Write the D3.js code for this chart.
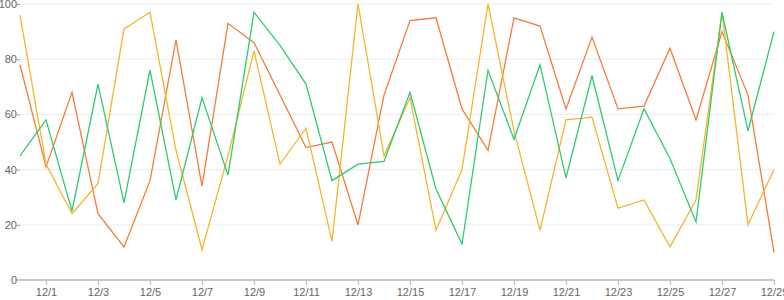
<!DOCTYPE html>
<html>
<head>
<meta charset="utf-8">
<script src="https://cdn.jsdelivr.net/npm/d3@7"></script>
<style>
  body { margin: 0; background: #fff; }
  svg { display: block; }
  .tick text { font-family: "Liberation Sans", Arial, sans-serif; font-size: 11px; fill: #666; }
</style>
</head>
<body>
<svg id="chart" width="784" height="300"></svg>
<script>
const width = 784;
const height = 300;

// day labels, 11/30 .. 12/29
const dates = ["11/30", "12/1", "12/2", "12/3", "12/4", "12/5", "12/6", "12/7", "12/8", "12/9",
  "12/10", "12/11", "12/12", "12/13", "12/14", "12/15", "12/16", "12/17", "12/18", "12/19",
  "12/20", "12/21", "12/22", "12/23", "12/24", "12/25", "12/26", "12/27", "12/28", "12/29"];

const xTickLabels = ["12/1", "12/3", "12/5", "12/7", "12/9", "12/11", "12/13", "12/15",
  "12/17", "12/19", "12/21", "12/23", "12/25", "12/27", "12/29"];
const yTicks = [0, 20, 40, 60, 80, 100];

const orangeValues = [78, 41, 68, 24, 12, 36, 87, 34, 93, 86, 67, 48, 50, 20, 67,
  94, 95, 62, 47, 95, 92, 62, 88, 62, 63, 84, 58, 90, 67, 10];
const yellowValues = [96, 42, 24, 35, 91, 97, 47, 11, 45, 83, 42, 55, 14, 100, 45,
  66, 18, 40, 100, 54, 18, 58, 59, 26, 29, 12, 29, 97, 20, 40];
const greenValues = [45, 58, 25, 71, 28, 76, 29, 66, 38, 97, 85, 71, 36, 42, 43,
  68, 33, 13, 76, 51, 78, 37, 74, 36, 62, 44, 21, 97, 54, 90];

const seriesList = [
  { name: "orange", color: "#f47c38", values: orangeValues },
  { name: "yellow", color: "#f3b72c", values: yellowValues },
  { name: "green", color: "#2fcb6e", values: greenValues }
];

const x_left = 20;
const x_right = 774;
const y_top = 4;
const y_bottom = 280;

const svg = d3.select("#chart");

const xScale = d3.scalePoint()
  .domain(dates)
  .range([x_left, x_right]);

const yScale = d3.scaleLinear()
  .domain([0, 100])
  .range([y_bottom, y_top]);

// grid
svg.append("g")
  .selectAll("line")
  .data(yTicks.filter(t => t > 0))
  .join("line")
  .attr("x1", x_left)
  .attr("x2", x_right)
  .attr("y1", d => yScale(d))
  .attr("y2", d => yScale(d))
  .attr("stroke", "#ebebeb")
  .attr("stroke-width", 1);

// y axis
const yAxis = svg.append("g")
  .attr("transform", "translate(" + x_left + ",0)")
  .call(d3.axisLeft(yScale).tickValues(yTicks).tickSize(3).tickPadding(0));
yAxis.select(".domain").remove();
yAxis.selectAll(".tick line").attr("stroke", "#999");

// x axis
const xAxis = svg.append("g")
  .attr("transform", "translate(0," + y_bottom + ")")
  .call(d3.axisBottom(xScale).tickValues(xTickLabels).tickSize(5).tickSizeOuter(0).tickPadding(3));
xAxis.select(".domain")
  .attr("d", "M" + (x_left - 3) + ",0H" + x_right)
  .attr("stroke", "#c8c8c8")
  .attr("stroke-width", 2);
xAxis.selectAll(".tick line").attr("stroke", "#bbb");

// lines
const line = d3.line()
  .x((d, i) => xScale(dates[i]))
  .y(d => yScale(d));

svg.append("g")
  .selectAll("path")
  .data(seriesList)
  .join("path")
  .attr("fill", "none")
  .attr("stroke", d => d.color)
  .attr("stroke-width", 1.3)
  .attr("stroke-linejoin", "miter")
  .attr("d", d => line(d.values));
</script>
</body>
</html>
